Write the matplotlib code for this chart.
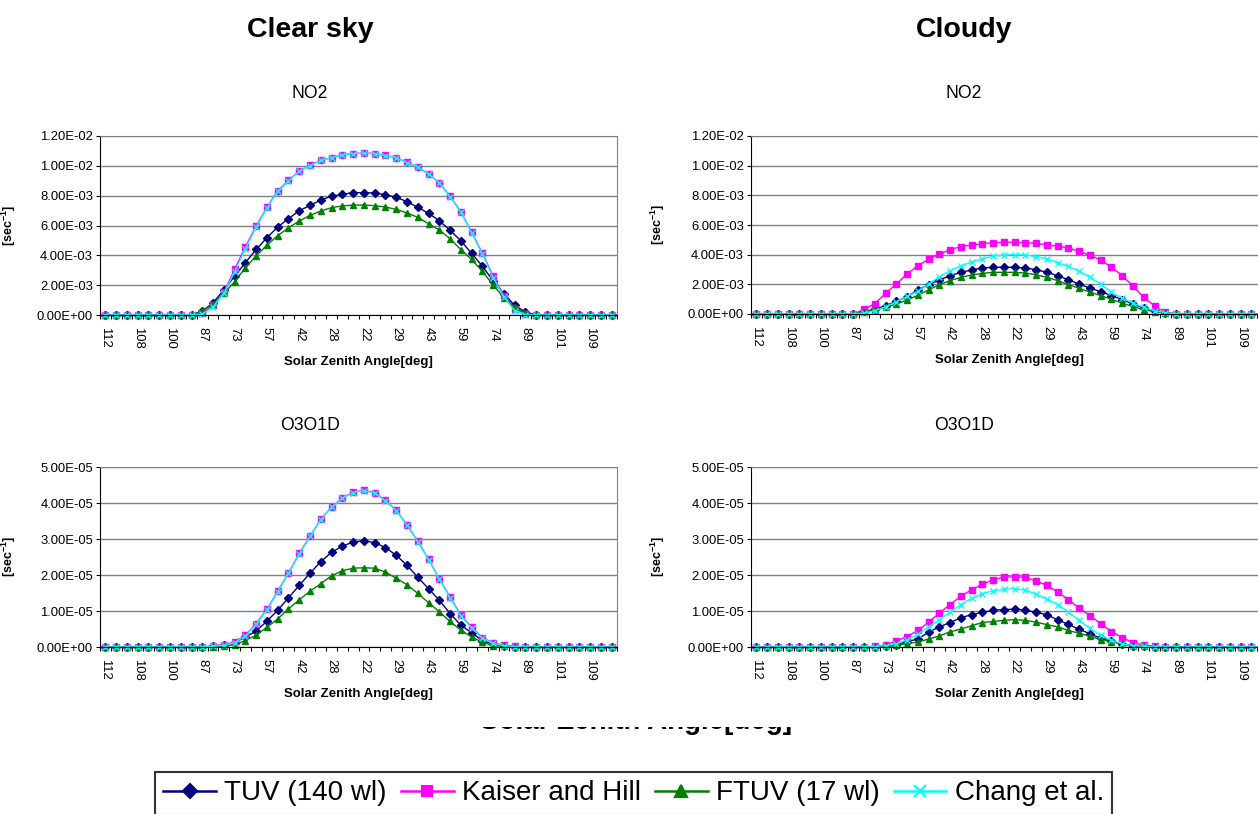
import numpy as np
import matplotlib
matplotlib.use('Agg')
import matplotlib.pyplot as plt
from matplotlib.lines import Line2D
from matplotlib.patches import Rectangle
from matplotlib.ticker import FuncFormatter

plt.rcParams['font.family'] = ['Liberation Sans', 'DejaVu Sans']
plt.rcParams['mathtext.fontset'] = 'custom'
plt.rcParams['mathtext.rm'] = 'Liberation Sans:bold'
plt.rcParams['mathtext.bf'] = 'Liberation Sans:bold'
plt.rcParams['mathtext.default'] = 'bf'

# --- data: 48 half-hour steps over one day, labelled every 3rd step by SZA ---
n_steps = 48
sza_labels = [112, 108, 100, 87, 73, 57, 42, 28, 22, 29, 43, 59, 74, 89, 101, 109]
series_names = ['TUV (140 wl)', 'Kaiser and Hill', 'FTUV (17 wl)', 'Chang et al.']

# NO2, clear sky  [1e-3 s^-1]
no2_clear_tuv = [0, 0, 0, 0, 0, 0, 0, 0, 0, 0.25, 0.83, 1.68, 2.61, 3.51, 4.40, 5.18,
                 5.90, 6.46, 6.99, 7.35, 7.71, 7.96, 8.09, 8.20, 8.20, 8.18, 8.07, 7.89,
                 7.60, 7.22, 6.82, 6.32, 5.68, 4.98, 4.13, 3.28, 2.28, 1.41, 0.65, 0.20,
                 0, 0, 0, 0, 0, 0, 0, 0]
no2_clear_kh = [0, 0, 0, 0, 0, 0, 0, 0, 0, 0.11, 0.65, 1.52, 3.06, 4.58, 5.97, 7.22,
                8.34, 9.03, 9.65, 10.03, 10.37, 10.55, 10.75, 10.82, 10.86, 10.82, 10.70, 10.55,
                10.23, 9.94, 9.45, 8.87, 7.96, 6.93, 5.54, 4.16, 2.59, 1.30, 0.42, 0.07,
                0, 0, 0, 0, 0, 0, 0, 0]
no2_clear_ftuv = [0, 0, 0, 0, 0, 0, 0, 0, 0, 0.29, 0.72, 1.45, 2.23, 3.17, 3.96, 4.69,
                  5.32, 5.85, 6.30, 6.68, 6.97, 7.20, 7.31, 7.37, 7.37, 7.33, 7.24, 7.08,
                  6.84, 6.55, 6.12, 5.70, 5.12, 4.38, 3.73, 2.93, 2.01, 1.16, 0.54, 0.13,
                  0, 0, 0, 0, 0, 0, 0, 0]
no2_clear_chang = [0, 0, 0, 0, 0, 0, 0, 0, 0, 0.05, 0.55, 1.45, 2.90, 4.45, 5.90, 7.18,
                   8.30, 9.00, 9.63, 10.02, 10.36, 10.55, 10.74, 10.81, 10.85, 10.81, 10.69, 10.54,
                   10.22, 9.93, 9.44, 8.85, 7.93, 6.90, 5.50, 4.10, 2.50, 1.20, 0.30, 0.02,
                   0, 0, 0, 0, 0, 0, 0, 0]

# NO2, cloudy  [1e-3 s^-1]
no2_cloud_tuv = [0, 0, 0, 0, 0, 0, 0, 0, 0, 0, 0.18, 0.31, 0.56, 0.85, 1.17, 1.62,
                 1.98, 2.29, 2.58, 2.81, 2.97, 3.10, 3.15, 3.15, 3.15, 3.10, 2.99, 2.81,
                 2.58, 2.31, 2.02, 1.75, 1.51, 1.24, 0.97, 0.67, 0.40, 0.20, 0.09, 0,
                 0, 0, 0, 0, 0, 0, 0, 0]
no2_cloud_kh = [0, 0, 0, 0, 0, 0, 0, 0, 0, 0, 0.31, 0.70, 1.39, 2.02, 2.70, 3.24,
                3.71, 4.04, 4.34, 4.54, 4.65, 4.74, 4.81, 4.83, 4.85, 4.81, 4.76, 4.67,
                4.56, 4.45, 4.22, 3.96, 3.64, 3.15, 2.58, 1.89, 1.12, 0.56, 0.11, 0,
                0, 0, 0, 0, 0, 0, 0, 0]
no2_cloud_ftuv = [0, 0, 0, 0, 0, 0, 0, 0, 0, 0, 0.16, 0.27, 0.45, 0.67, 0.94, 1.26,
                  1.62, 1.98, 2.25, 2.47, 2.63, 2.74, 2.81, 2.81, 2.81, 2.76, 2.65, 2.47,
                  2.25, 1.98, 1.73, 1.48, 1.24, 0.99, 0.74, 0.49, 0.29, 0.16, 0.07, 0,
                  0, 0, 0, 0, 0, 0, 0, 0]
no2_cloud_chang = [0, 0, 0, 0, 0, 0, 0, 0, 0, 0, 0.07, 0.22, 0.49, 0.83, 1.19, 1.53,
                   2.02, 2.52, 2.92, 3.24, 3.51, 3.73, 3.89, 3.98, 4.00, 3.98, 3.87, 3.71,
                   3.46, 3.21, 2.88, 2.47, 2.02, 1.46, 1.06, 0.74, 0.45, 0.22, 0.09, 0,
                   0, 0, 0, 0, 0, 0, 0, 0]

# O3 -> O1D, clear sky  [1e-5 s^-1]
o1d_clear_tuv = [0, 0, 0, 0, 0, 0, 0, 0, 0, 0, 0.02, 0.06, 0.12, 0.28, 0.44, 0.72,
                 1.02, 1.37, 1.71, 2.05, 2.37, 2.63, 2.80, 2.92, 2.95, 2.90, 2.76, 2.55,
                 2.27, 1.94, 1.62, 1.30, 0.93, 0.61, 0.39, 0.18, 0.08, 0.04, 0.01, 0,
                 0, 0, 0, 0, 0, 0, 0, 0]
o1d_clear_kh = [0, 0, 0, 0, 0, 0, 0, 0, 0, 0, 0.03, 0.06, 0.14, 0.33, 0.65, 1.05,
                1.55, 2.06, 2.60, 3.08, 3.55, 3.89, 4.14, 4.30, 4.35, 4.29, 4.07, 3.80,
                3.40, 2.94, 2.44, 1.90, 1.39, 0.89, 0.55, 0.26, 0.11, 0.05, 0.02, 0,
                0, 0, 0, 0, 0, 0, 0, 0]
o1d_clear_ftuv = [0, 0, 0, 0, 0, 0, 0, 0, 0, 0, 0.01, 0.03, 0.06, 0.18, 0.33, 0.55,
                  0.78, 1.06, 1.31, 1.55, 1.76, 1.98, 2.12, 2.19, 2.20, 2.19, 2.08, 1.91,
                  1.73, 1.49, 1.23, 0.98, 0.71, 0.47, 0.28, 0.13, 0.04, 0.02, 0, 0,
                  0, 0, 0, 0, 0, 0, 0, 0]
o1d_clear_chang = [0, 0, 0, 0, 0, 0, 0, 0, 0, 0, 0.02, 0.05, 0.12, 0.31, 0.63, 1.03,
                   1.53, 2.05, 2.58, 3.07, 3.54, 3.88, 4.13, 4.29, 4.34, 4.28, 4.06, 3.79,
                   3.39, 2.93, 2.43, 1.89, 1.37, 0.87, 0.53, 0.24, 0.10, 0.04, 0.01, 0,
                   0, 0, 0, 0, 0, 0, 0, 0]

# O3 -> O1D, cloudy  [1e-5 s^-1]
o1d_cloud_tuv = [0, 0, 0, 0, 0, 0, 0, 0, 0, 0, 0, 0.01, 0.03, 0.06, 0.15, 0.22,
                 0.41, 0.56, 0.68, 0.81, 0.90, 0.96, 1.02, 1.04, 1.05, 1.03, 0.96, 0.90,
                 0.75, 0.63, 0.49, 0.37, 0.24, 0.16, 0.08, 0.04, 0.02, 0, 0, 0,
                 0, 0, 0, 0, 0, 0, 0, 0]
o1d_cloud_kh = [0, 0, 0, 0, 0, 0, 0, 0, 0, 0, 0, 0.02, 0.05, 0.17, 0.29, 0.46,
                0.69, 0.94, 1.18, 1.41, 1.59, 1.74, 1.87, 1.94, 1.95, 1.94, 1.83, 1.71,
                1.53, 1.31, 1.08, 0.87, 0.65, 0.43, 0.26, 0.12, 0.06, 0.02, 0, 0,
                0, 0, 0, 0, 0, 0, 0, 0]
o1d_cloud_ftuv = [0, 0, 0, 0, 0, 0, 0, 0, 0, 0, 0, 0.01, 0.02, 0.05, 0.09, 0.14,
                  0.22, 0.31, 0.42, 0.50, 0.59, 0.68, 0.71, 0.74, 0.76, 0.74, 0.69, 0.62,
                  0.56, 0.46, 0.38, 0.30, 0.20, 0.15, 0.08, 0.04, 0.02, 0, 0, 0,
                  0, 0, 0, 0, 0, 0, 0, 0]
o1d_cloud_chang = [0, 0, 0, 0, 0, 0, 0, 0, 0, 0, 0, 0.01, 0.04, 0.09, 0.20, 0.35,
                   0.56, 0.76, 0.97, 1.18, 1.35, 1.48, 1.56, 1.60, 1.62, 1.58, 1.47, 1.33,
                   1.18, 0.97, 0.74, 0.52, 0.32, 0.19, 0.09, 0.04, 0.02, 0, 0, 0,
                   0, 0, 0, 0, 0, 0, 0, 0]

# --- styles ---
colors = ['#000080', '#FF00FF', '#008000', '#00FFFF']
markers = ['D', 's', '^', 'x']
msizes = [3.8, 3.9, 4.8, 4.6]

W, H = 1258, 814
fig = plt.figure(figsize=(W / 100, H / 100), dpi=100)
x = np.arange(n_steps)


def add_panel(left, top, width, height):
    return fig.add_axes([left / W, 1 - (top + height) / H, width / W, height / H])


def draw_panel(ax, series, scale, ymax, ystep, ylab_x):
    for vals, c, m, ms in zip(series, colors, markers, msizes):
        ax.plot(x, np.array(vals) * scale, color=c, lw=1.0, marker=m, ms=ms,
                mfc=c, mec=c, mew=1.0, clip_on=False)
    ax.set_xlim(-0.5, n_steps - 0.5)
    ax.set_ylim(0, ymax)
    ax.set_yticks(np.arange(0, ymax + ystep / 2, ystep))
    ax.yaxis.set_major_formatter(FuncFormatter(lambda v, p: f'{v:.2E}'))
    ax.set_xticks(x[::3])
    ax.set_xticklabels([str(s) for s in sza_labels], rotation=270)
    ax.set_xticks(np.arange(-0.5, n_steps, 1), minor=True)
    ax.tick_params(axis='x', which='major', length=0, pad=8.5, labelsize=9.4)
    ax.tick_params(axis='x', which='minor', length=3, width=0.8, direction='out')
    ax.tick_params(axis='y', length=3, width=0.8, labelsize=9.4, pad=2)
    ax.grid(axis='y', color='#808080', lw=1.0)
    ax.set_axisbelow(True)
    ax.spines['top'].set_color('#808080')
    ax.spines['right'].set_color('#808080')
    for s in ['left', 'bottom']:
        ax.spines[s].set_color('black')
    ax.set_ylabel('[sec$^{-1}$]', fontweight='bold', fontsize=9)
    ax.yaxis.set_label_coords(ylab_x, 0.5)
    ax.set_xlabel('Solar Zenith Angle[deg]', fontweight='bold', fontsize=9.5)
    ax.xaxis.set_label_coords(0.5, -0.26)
    ax.xaxis.label.set_va('center')


ax1 = add_panel(100, 136, 517, 179)
ax2 = add_panel(751, 136, 516.5, 178)
ax3 = add_panel(100, 467, 517, 180)
ax4 = add_panel(751, 467, 516.5, 180)

draw_panel(ax1, [no2_clear_tuv, no2_clear_kh, no2_clear_ftuv, no2_clear_chang], 1e-3, 0.012, 0.002, -0.159)
draw_panel(ax2, [no2_cloud_tuv, no2_cloud_kh, no2_cloud_ftuv, no2_cloud_chang], 1e-3, 0.012, 0.002, -0.163)
draw_panel(ax3, [o1d_clear_tuv, o1d_clear_kh, o1d_clear_ftuv, o1d_clear_chang], 1e-5, 5e-5, 1e-5, -0.159)
draw_panel(ax4, [o1d_cloud_tuv, o1d_cloud_kh, o1d_cloud_ftuv, o1d_cloud_chang], 1e-5, 5e-5, 1e-5, -0.163)

# titles
fig.text(310 / W, 1 - 30 / H, 'Clear sky', ha='center', va='center', fontsize=20.5, fontweight='bold')
fig.text(964 / W, 1 - 30 / H, 'Cloudy', ha='center', va='center', fontsize=20.5, fontweight='bold')
for xc in [310, 964]:
    fig.text(xc / W, 1 - 94 / H, 'NO2', ha='center', va='center', fontsize=12.7)
    fig.text(xc / W, 1 - 425 / H, 'O3O1D', ha='center', va='center', fontsize=12.7)

# large axis title, mostly hidden behind the chart area above it
fig.text(636 / W, 1 - 729 / H, 'Solar Zenith Angle[deg]', ha='center', va='baseline',
         fontsize=20, fontweight='bold', zorder=3)
fig.add_artist(Rectangle((455 / W, 1 - 726.5 / H), 370 / W, 24 / H, transform=fig.transFigure,
                         facecolor='white', edgecolor='none', zorder=4))

# legend
handles = [Line2D([], [], color=c, lw=1.8, marker=m, ms=ms * 1.9, mfc=c, mec=c, mew=1.5)
           for c, m, ms in zip(colors, markers, msizes)]
leg = fig.legend(handles, series_names, loc='upper left', bbox_to_anchor=(155 / W, 1 - 772 / H),
                 ncol=4, fontsize=20, frameon=True, fancybox=False, shadow=False,
                 handlelength=1.9, handletextpad=0.3, columnspacing=0.5, borderpad=0.3,
                 borderaxespad=0)
leg.get_frame().set_edgecolor('black')
leg.get_frame().set_linewidth(1.5)

fig.savefig('out.png', dpi=100)
